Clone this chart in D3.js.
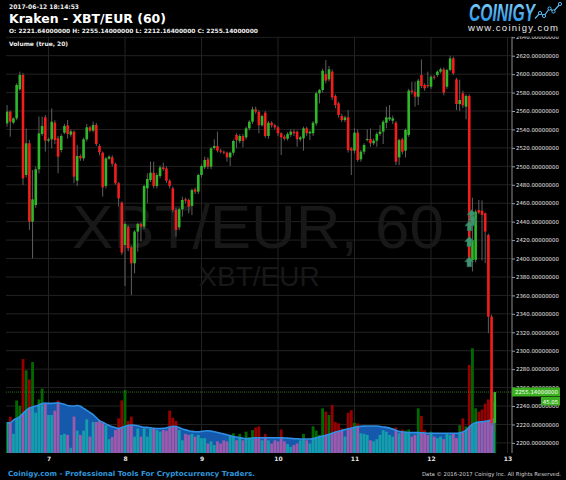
<!DOCTYPE html>
<html><head><meta charset="utf-8">
<script src="https://cdn.jsdelivr.net/npm/d3@7"></script>
<style>html,body{margin:0;padding:0;background:#000;}svg{display:block}</style>
</head><body>
<svg id="c" width="566" height="480"></svg>
<script>
// ---------------- DATA ----------------
const firstCandle = "2017-06-06T11:00:00Z"; // hourly candles (60)
const opens = [2546.6,2559.3,2547.4,2552.1,2583.5,2599.1,2490.6,2525,2440,2458,
2496.8,2535.1,2553.2,2527.8,2529.3,2547.4,2530.4,2517.7,2536.5,2544.5,
2534.3,2537.6,2484.5,2511.2,2508.7,2529.3,2542.3,2538.7,2544.8,2522,
2514.8,2478.7,2508.3,2509.8,2502.6,2481.6,2460.6,2414.7,2433.9,2412.2,
2394.8,2429.2,2437.5,2434.6,2476.2,2485.2,2493.1,2478.7,2489.5,2498.9,
2497.8,2484.4,2476.1,2452.6,2433.8,2453.4,2464.2,2463.5,2457,2475.1,
2472.5,2490.6,2498.9,2507.6,2499.6,2519.9,2522.1,2517,2515.9,2514.8,
2509.7,2514.8,2534,2527.5,2532.9,2531.4,2541.2,2548.4,2561.8,2558.9,
2544.5,2558.2,2532.9,2547.3,2544.5,2542.3,2535.8,2532.2,2530,2534.3,
2537.6,2537.6,2529.3,2530.4,2541.2,2535.8,2535.8,2546.6,2579.2,2582.8,
2600.1,2594.3,2602.7,2576.3,2568.3,2554.6,2550.2,2553.1,2519.5,2517,
2536.5,2507.6,2515.9,2528.5,2529.6,2525,2527.8,2535.1,2537.6,2547.3,
2551,2549.5,2547.3,2509.7,2529.3,2517,2534,2582.1,2581,2575.5,
2599,2588.2,2588.2,2586.4,2597.2,2599,2602.7,2605.2,2586.4,2604.5,
2617.1,2594.3,2567.6,2579.2,2564.7,2576.3,2398.4,2398.5,2452.5,2451.9,
2449.1,2425.5,2337,2221.64];
const highs = [2566.5,2560.5,2553,2590,2602.7,2601,2541,2528.6,2496,2500,
2553.9,2553.9,2555.7,2531,2562.9,2550,2533,2535,2546,2550.3,
2540,2539,2523.2,2513,2531,2545.9,2544,2548.4,2547,2524,
2516,2510,2512,2512,2504,2483,2462,2440,2436,2414,
2431,2439,2439,2480,2492.4,2505.1,2505.1,2493,2501,2504,
2500,2486,2478,2455,2455,2467.1,2466,2465,2476,2477,
2492,2502,2510.5,2510,2521,2529.3,2537.6,2519,2517,2516,
2516,2529,2536,2535,2535,2543,2550,2564.7,2564.7,2561,
2556,2560,2549,2549,2546,2544,2537,2534,2537,2540,
2540,2539,2533,2543,2543,2539,2549,2581,2584,2606,
2615.3,2608.8,2605,2578,2570,2557,2555,2561,2521,2541.2,
2540,2518,2525,2540.1,2541,2530,2537,2544.8,2550,2564.7,
2566.5,2555,2549,2530,2531,2541,2584,2591.8,2591.8,2595,
2616,2590,2602.7,2599,2599,2604,2607,2607,2606,2620,
2619,2596,2594,2582,2578,2578,2466,2453,2463.5,2463,
2450,2427,2339,2255.14];
const lows = [2543,2532.2,2546,2550,2582,2479.8,2488,2431,2400.2,2455,
2492.4,2533,2515.9,2526,2519.5,2524,2492.4,2515,2535,2530,
2532,2481.6,2478.7,2506,2506,2527,2537,2537,2522,2512,
2467.1,2476,2507,2500,2480,2456.3,2404,2370.2,2408,2360.5,
2384,2407.5,2418.3,2432,2459.9,2483,2476.1,2476,2487,2495,
2482,2476,2450,2423.7,2431,2445.4,2460,2449,2447.2,2470,
2470,2488,2497,2497,2497,2518,2515,2514,2513,2505.1,
2500.4,2512,2519.5,2525,2520.6,2529,2539,2546,2557,2535.8,
2543,2531,2530,2542,2540,2533,2512.3,2528,2528,2532,
2533,2521.3,2527,2517,2533,2528.6,2533,2544,2568.3,2580,
2590,2592,2572,2562.9,2553,2548,2548,2515,2490.6,2514,
2505,2505,2513,2527,2521.3,2523,2521.3,2533,2524.2,2541.2,
2549,2546,2501.4,2501.4,2513,2509.7,2532,2578,2564.7,2566.5,
2585,2582,2585,2584,2594,2597,2601,2577,2584,2603,
2599,2561,2560,2563,2551,2396,2386,2396,2448,2398,
2395,2319,2219,2212.16];
const closes = [2559.3,2548.4,2552.1,2588.2,2599.1,2487,2525,2440,2464.2,2496.8,
2535.8,2543.8,2527.8,2529.3,2548.4,2528.6,2510.5,2532.9,2543.8,2535.1,
2538,2488.8,2511.2,2508.7,2529.3,2542.3,2538.7,2544.8,2524.2,2515.2,
2477.2,2508.7,2510.5,2502.6,2481.6,2465.3,2406.4,2437.5,2411.1,2394.8,
2429.2,2437.5,2434.6,2478.7,2486.3,2493.1,2478.7,2490.6,2498.9,2497.1,
2484.4,2478.7,2452.6,2431,2453.4,2463.5,2462.8,2456.2,2474.3,2472.5,
2490.6,2500.4,2506.9,2499.6,2519.5,2522.1,2517,2515.9,2514.8,2509.7,
2514.8,2527.5,2528.5,2532.9,2527.5,2541.2,2548.4,2561.8,2559.3,2544.5,
2554.6,2532.9,2547.3,2544.5,2542.3,2535.8,2531.4,2530,2535.1,2537.6,
2535.8,2529.3,2531.4,2541.2,2535.8,2537.6,2547.3,2579.2,2582.8,2603.7,
2592.9,2605.2,2574.8,2566.5,2555.7,2550.2,2553.1,2517.7,2517,2536.5,
2506.9,2515.9,2523.1,2529.6,2525,2527.8,2535.1,2537.6,2548.4,2553.1,
2553.1,2552,2505,2528.5,2515.9,2539.4,2582.1,2580.6,2575.5,2592.9,
2587.1,2584.6,2587.1,2597.2,2596.2,2602.7,2605.2,2579.9,2604.5,2617.1,
2600.9,2567.6,2572,2566.1,2576.3,2398.4,2420,2450.8,2449.8,2447.3,
2429.2,2337,2221.64,2255.14];
const volumes = [26,31,15,46,41,84.5,74,65.6,81.7,34.7,
47,57,43,32.5,32.5,36.5,46,14,15,14,
2,31,18,14,18,28.5,12.4,26,26,28,
25,23,10,12,18.5,29.4,46,55.7,27,31,
12.4,20,12.4,20,12.4,20,20,18.5,17,18.5,
18,36.5,30,27,18.5,9,15,14,15,12.4,
14,11,11,6,8,4.6,8,6,9,8,
14,15.5,9,15,9,17,12,18.5,21,22,
9,15,9,6,9,8,19,8,5.5,3,
4.6,6,9,15,9,6,22,18,14,38.7,
35.6,32.5,41.8,26,24.8,20,12.4,34.7,37,25.4,
24.8,15.5,15,14,9,8,10,14,18.5,17,
14,12.4,21,15.5,19,18,19,12.4,14,38.7,
31.6,18.5,14,17,12.4,11,12.4,10,15,14,
15.5,11,23,29.4,22,79,94.4,38.7,35.6,37.7,
43,47,56,45.05];
const volumeMA20 = [25.3,25.3,27.8,29.3,31,34,36.8,39,40,40.8,
41.9,43.2,43.7,43.3,43.3,43.5,43.8,43.2,42.5,41.3,
40.9,40.9,41.3,40.6,38.7,36.8,34.8,32.9,30,27.3,
25.8,24.2,22.8,21.6,20.8,20.1,21,21.9,23,23.2,
23,22.5,21.7,21,21,20.6,20.1,20,20,20.1,
20.6,21.3,22.1,21.8,20.9,19.6,18.7,17.9,17.3,17,
17,17.3,17.7,17.9,17.5,16.9,16.3,15.6,14.8,14.2,
13.4,12.4,12,11.6,10.9,10.6,10.6,11.2,11.3,11.4,
11.4,11.4,11.4,11.4,11.4,11.4,11.4,11.2,11,10.8,
10.6,10.4,10.2,10.2,10.2,10.2,10.7,11.3,12.4,13,
13.6,14.5,15.5,16.6,17.4,18.2,18.9,19.6,20.3,21.1,
21.7,22,22.2,22.3,22.3,22.3,22.3,21.9,21.4,21,
20.3,19.4,18.4,17.3,16.9,16.5,16.2,16.1,16.1,16.1,
16,15.8,15.6,15.5,15.5,15.5,15.5,15.5,15.5,15.5,
15.5,15.5,16,16.8,18.5,21.3,24,25.3,25.9,26.2,
26.6,27.2,28,28.5];
const priceTicks = [2200,2220,2240,2260,2280,2300,2320,2340,2360,2380,2400,2420,2440,2460,2480,2500,2520,2540,2560,2580,2600,2620,2640];
const dayTicks = ["2017-06-07","2017-06-08","2017-06-09","2017-06-10","2017-06-11","2017-06-12","2017-06-13"];
const tradeTimes = ["2017-06-12T12:45:00Z","2017-06-12T13:05:00Z","2017-06-12T12:05:00Z","2017-06-12T12:00:00Z","2017-06-12T12:00:00Z"];
const tradePrices = [2447,2441,2435,2418,2396];
const lastPrice = 2255.14, lastVolume = 45.05;
const headerDate = "2017-06-12 18:14:53";
const title = "Kraken - XBT/EUR (60)";
const ohlcLine = "O: 2221.64000000 H: 2255.14000000 L: 2212.16400000 C: 2255.14000000";
const indicatorLabel = "Volume (true, 20)";

// ---------------- DRAW ----------------
const W = 566, H = 480;
const P = {left: 6, right: 512, top: 36.5, bottom: 453};
const svg = d3.select("#c");
svg.append("rect").attr("width", W).attr("height", H).attr("fill", "#000");
const defs = svg.append("defs");
defs.append("clipPath").attr("id", "plotClip").append("rect")
  .attr("x", P.left).attr("y", P.top).attr("width", P.right - P.left).attr("height", P.bottom - P.top);
defs.append("clipPath").attr("id", "axisClip").append("rect")
  .attr("x", P.right - 2).attr("y", P.top).attr("width", 60).attr("height", 430);
const lg = defs.append("linearGradient").attr("id", "logoGrad").attr("x1", 0).attr("y1", 0).attr("x2", 0).attr("y2", 1);
lg.append("stop").attr("offset", "0%").attr("stop-color", "#8ad6ff");
lg.append("stop").attr("offset", "100%").attr("stop-color", "#1b8be0");

const start = new Date(firstCandle);
const candles = opens.map((o, i) => ({
  t: d3.utcHour.offset(start, i), o, h: highs[i], l: lows[i], c: closes[i],
  v: volumes[i], ma: volumeMA20[i]
}));
const days = dayTicks.map(d => new Date(d + "T00:00:00Z"));

const x = d3.scaleUtc().domain([days[0], days[days.length - 1]]).range([48.5, 507.5]);
const y = d3.scaleLinear().domain([2200, 2620]).range([442.9, 55.7]);
const yv = d3.scaleLinear().domain([0, lastVolume]).range([450, 401.5]);

// grid
const grid = svg.append("g").attr("clip-path", "url(#plotClip)");
grid.selectAll(".hg").data(priceTicks).join("line")
  .attr("x1", P.left).attr("x2", P.right).attr("y1", d => y(d)).attr("y2", d => y(d))
  .attr("stroke", "#222").attr("stroke-width", 1);
grid.selectAll(".vg").data(days).join("line")
  .attr("x1", d => x(d)).attr("x2", d => x(d)).attr("y1", P.top).attr("y2", P.bottom)
  .attr("stroke", "#222").attr("stroke-width", 1);

// watermark
svg.append("text").attr("x", 258).attr("y", 248).attr("text-anchor", "middle")
  .attr("font-family", "Liberation Sans, Arial, sans-serif").attr("font-size", 62)
  .attr("fill", "#181818").text("XBT/EUR, 60");
svg.append("text").attr("x", 259).attr("y", 286).attr("text-anchor", "middle")
  .attr("font-family", "Liberation Sans, Arial, sans-serif").attr("font-size", 28)
  .attr("fill", "#181818").text("XBT/EUR");

const plotG = svg.append("g").attr("clip-path", "url(#plotClip)");

// volume bars
plotG.append("g").selectAll("rect").data(candles).join("rect")
  .attr("x", d => x(d.t) - 1.4).attr("width", 2.8)
  .attr("y", d => yv(d.v)).attr("height", d => P.bottom - yv(d.v))
  .attr("fill", d => d.c >= d.o ? "#006a00" : "#960000");

// volume MA area (screen blend)
const area = d3.area().x(d => x(d.t)).y0(P.bottom).y1(d => yv(d.ma)).curve(d3.curveMonotoneX);
plotG.append("path").datum(candles).attr("d", area)
  .attr("fill", "#1459ab").style("mix-blend-mode", "screen");
const line = d3.line().x(d => x(d.t)).y(d => yv(d.ma)).curve(d3.curveMonotoneX);
plotG.append("path").datum(candles).attr("d", line)
  .attr("fill", "none").attr("stroke", "#2f8fe2").attr("stroke-width", 1.6);

// last price dotted line
plotG.append("line").attr("x1", P.left).attr("x2", P.right)
  .attr("y1", y(lastPrice)).attr("y2", y(lastPrice))
  .attr("stroke", "#2d6e1e").attr("stroke-width", 1).attr("stroke-dasharray", "1,1");

// candles
const cg = plotG.append("g");
cg.selectAll(".wick").data(candles).join("line")
  .attr("x1", d => x(d.t)).attr("x2", d => x(d.t))
  .attr("y1", d => y(d.h)).attr("y2", d => y(d.l))
  .attr("stroke", "#5f5f5f").attr("stroke-width", 1);
cg.selectAll(".body").data(candles).join("rect")
  .attr("x", d => x(d.t) - 1.3).attr("width", 2.6)
  .attr("y", d => y(Math.max(d.o, d.c)))
  .attr("height", d => Math.max(1, Math.abs(y(d.o) - y(d.c))))
  .attr("fill", d => d.c >= d.o ? "#2fb82a" : "#f21d1d");

// trade arrows
const trades = tradeTimes.map((t, i) => ({t: new Date(t), p: tradePrices[i]}));
plotG.append("g").selectAll("path").data(trades).join("path")
  .attr("d", d => {
    const cx = x(d.t), cy = y(d.p);
    return `M${cx},${cy-5.5}L${cx+4.5},${cy-0.5}L${cx+2.2},${cy-0.5}L${cx+2.2},${cy+4.5}L${cx-2.2},${cy+4.5}L${cx-2.2},${cy-0.5}L${cx-4.5},${cy-0.5}Z`;
  })
  .attr("fill", "#3f9270").attr("stroke", "#2f7558").attr("stroke-width", 0.6);

// y axis
const yAxis = d3.axisRight(y).tickValues(priceTicks).tickFormat(d => d.toFixed(8)).tickSize(3).tickPadding(1);
const yaOuter = svg.append("g").attr("clip-path", "url(#axisClip)");
const ya = yaOuter.append("g").attr("transform", `translate(${P.right},0)`).call(yAxis);
ya.select(".domain").attr("stroke", "#5e5e5e").attr("stroke-width", 1.5)
  .attr("d", `M0,${P.top}V${P.bottom}`);
ya.selectAll(".tick line").attr("stroke", "#999");
ya.selectAll(".tick text").attr("fill", "#e6e6e6").attr("font-family", "DejaVu Sans, sans-serif")
  .attr("font-size", 5.4);

// x axis
const xAxis = d3.axisBottom(x).tickValues(days).tickFormat(d3.utcFormat("%-d")).tickSize(0).tickPadding(4);
const xa = svg.append("g").attr("transform", `translate(0,${P.bottom})`).call(xAxis);
xa.select(".domain").remove();
xa.selectAll(".tick text").attr("fill", "#e6e6e6").attr("font-family", "DejaVu Sans, sans-serif")
  .attr("font-weight", "bold").attr("font-size", 6);

// last price label boxes
const lp = svg.append("g");
lp.append("rect").attr("x", P.right).attr("y", y(lastPrice) - 4.6).attr("width", 48).attr("height", 9)
  .attr("fill", "#3cb020");
lp.append("text").attr("x", P.right + 3).attr("y", y(lastPrice) + 2)
  .attr("fill", "#fff").attr("font-family", "DejaVu Sans, sans-serif").attr("font-size", 5.4)
  .text(lastPrice.toFixed(8));
lp.append("rect").attr("x", 541).attr("y", yv(lastVolume) - 4.5).attr("width", 19).attr("height", 8.5)
  .attr("fill", "#3cb020");
lp.append("text").attr("x", 550.5).attr("y", yv(lastVolume) + 2).attr("text-anchor", "middle")
  .attr("fill", "#fff").attr("font-family", "DejaVu Sans, sans-serif").attr("font-size", 5.4)
  .text(lastVolume.toFixed(2));

// header texts
const hf = "DejaVu Sans, Verdana, sans-serif";
svg.append("text").attr("x", 9).attr("y", 8.5).attr("fill", "#eee").attr("font-family", hf)
  .attr("font-weight", "bold").attr("font-size", 6.3).attr("textLength", 70).attr("lengthAdjust", "spacingAndGlyphs").text(headerDate);
svg.append("text").attr("x", 9).attr("y", 22.7).attr("fill", "#fff").attr("font-family", hf)
  .attr("font-weight", "bold").attr("font-size", 12.5).attr("textLength", 157).attr("lengthAdjust", "spacingAndGlyphs").text(title);
svg.append("text").attr("x", 9).attr("y", 33.3).attr("fill", "#eee").attr("font-family", hf)
  .attr("font-weight", "bold").attr("font-size", 5.8).attr("textLength", 249).attr("lengthAdjust", "spacingAndGlyphs").text(ohlcLine);
svg.append("text").attr("x", 9).attr("y", 45.6).attr("fill", "#eee").attr("font-family", hf)
  .attr("font-weight", "bold").attr("font-size", 6).attr("textLength", 59).attr("lengthAdjust", "spacingAndGlyphs").text(indicatorLabel);

// logo
svg.append("text").attr("x", 469).attr("y", 20.5).attr("fill", "url(#logoGrad)")
  .attr("font-family", "Liberation Sans, Arial, sans-serif").attr("font-weight", "bold").attr("font-style", "italic")
  .attr("font-size", 23).attr("textLength", 66).attr("lengthAdjust", "spacingAndGlyphs").text("COINIGY");
const logoPts = [[535,18.5],[540,13],[544,16],[549.5,8.5],[553.5,11.5],[560,4]];
svg.append("path").attr("d", d3.line()(logoPts)).attr("fill", "none").attr("stroke", "#5cbcf5").attr("stroke-width", 1.2);
svg.append("g").selectAll("circle").data(logoPts.slice(1)).join("circle")
  .attr("cx", d => d[0]).attr("cy", d => d[1]).attr("r", 1.6)
  .attr("fill", "#000").attr("stroke", "#5cbcf5").attr("stroke-width", 1);
svg.append("text").attr("x", 468).attr("y", 30.5).attr("fill", "#e8e8e8")
  .attr("font-family", "Liberation Sans, Arial, sans-serif").attr("font-size", 9.5)
  .attr("textLength", 90).attr("lengthAdjust", "spacing").text("www.coinigy.com");

// footer
svg.append("text").attr("x", 8).attr("y", 476).attr("fill", "#2f97dc").attr("font-family", hf)
  .attr("font-weight", "bold").attr("font-size", 7).attr("textLength", 247).attr("lengthAdjust", "spacingAndGlyphs")
  .text("Coinigy.com - Professional Tools For Cryptocurrency Traders.");
svg.append("text").attr("x", 422).attr("y", 475.5).attr("fill", "#d0d0d0").attr("font-family", hf)
  .attr("font-size", 5.5).attr("textLength", 139).attr("lengthAdjust", "spacingAndGlyphs")
  .text("Data \u00A9 2016-2017 Coinigy Inc. All Rights Reserved.");
</script>
</body></html>
